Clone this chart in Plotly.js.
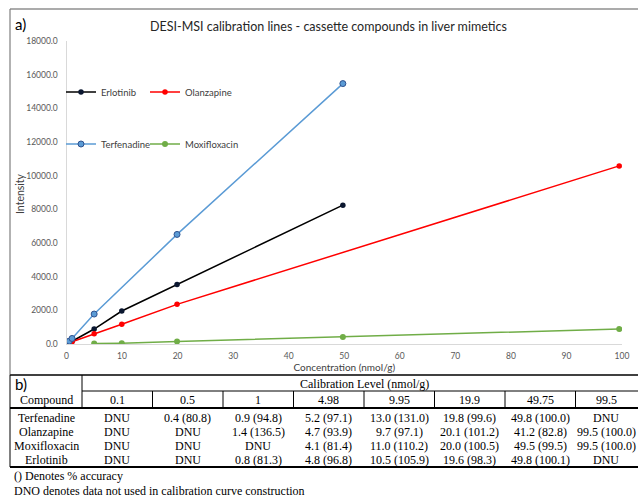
<!DOCTYPE html>
<html><head><meta charset="utf-8">
<script src="https://cdn.plot.ly/plotly-3.0.1.min.js"></script>
<style>html,body{margin:0;padding:0;background:#fff}</style>
</head><body><div id="chart" style="width:638px;height:500px"></div>
<script>
// ---- chart data ----
const erlotinibX = [1, 4.98, 9.95, 19.9, 49.75];
const erlotinibY = [165, 890, 1960, 3540, 8250];
const olanzapineX = [1, 4.98, 9.95, 19.9, 99.5];
const olanzapineY = [130, 610, 1170, 2355, 10580];
const terfenadineX = [0.5, 1, 4.98, 19.9, 49.75];
const terfenadineY = [170, 330, 1780, 6510, 15470];
const moxifloxacinX = [4.98, 9.95, 19.9, 49.75, 99.5];
const moxifloxacinY = [25, 50, 150, 420, 890];

// ---- table data ----
const levels = ['0.1', '0.5', '1', '4.98', '9.95', '19.9', '49.75', '99.5'];
const compounds = ['Terfenadine', 'Olanzapine', 'Moxifloxacin', 'Erlotinib'];
const terfenadineRow = ['DNU', '0.4 (80.8)', '0.9 (94.8)', '5.2 (97.1)', '13.0 (131.0)', '19.8 (99.6)', '49.8 (100.0)', 'DNU'];
const olanzapineRow = ['DNU', 'DNU', '1.4 (136.5)', '4.7 (93.9)', '9.7 (97.1)', '20.1 (101.2)', '41.2 (82.8)', '99.5 (100.0)'];
const moxifloxacinRow = ['DNU', 'DNU', 'DNU', '4.1 (81.4)', '11.0 (110.2)', '20.0 (100.5)', '49.5 (99.5)', '99.5 (100.0)'];
const erlotinibRow = ['DNU', 'DNU', '0.8 (81.3)', '4.8 (96.8)', '10.5 (105.9)', '19.6 (98.3)', '49.8 (100.1)', 'DNU'];
const tableRows = [terfenadineRow, olanzapineRow, moxifloxacinRow, erlotinibRow];
const footnotes = ['() Denotes % accuracy', 'DNO denotes data not used in calibration curve construction'];

// ---- helpers: pixel -> paper ----
const W = 638, H = 500;
const PX = p => p / W;
const PY = p => 1 - p / H;

const sans = 'Lato, "Open Sans", sans-serif';
const serif = '"Liberation Serif", "Times New Roman", serif';

const traces = [
  {x: erlotinibX, y: erlotinibY, name: 'Erlotinib', type: 'scatter', mode: 'lines+markers',
   line: {color: '#000000', width: 1.5}, marker: {color: '#0b1730', size: 5.5}, legend: 'legend'},
  {x: olanzapineX, y: olanzapineY, name: 'Olanzapine', type: 'scatter', mode: 'lines+markers',
   line: {color: '#ff0000', width: 1.5}, marker: {color: '#ff0000', size: 5.5}, legend: 'legend2'},
  {x: terfenadineX, y: terfenadineY, name: 'Terfenadine', type: 'scatter', mode: 'lines+markers',
   line: {color: '#5b9bd5', width: 1.5}, marker: {color: '#5b9bd5', size: 6, line: {color: '#2f528f', width: 1}}, legend: 'legend3'},
  {x: moxifloxacinX, y: moxifloxacinY, name: 'Moxifloxacin', type: 'scatter', mode: 'lines+markers',
   line: {color: '#70ad47', width: 1.5}, marker: {color: '#70ad47', size: 6}, legend: 'legend4'}
];

// ---- table geometry ----
const colEdges = [82, 152.5, 223, 293.5, 364, 434.5, 505, 575.5, 646];
const colCenters = [117, 187.5, 258, 328.5, 399, 469.5, 540, 606];
const compCenter = 46;
const headerY = 400;
const rowYs = [417.5, 431.5, 445.5, 460];

const annotations = [];
const txt = (t, x, y, opts = {}) => annotations.push(Object.assign({
  text: t, x: PX(x), y: PY(y), xref: 'paper', yref: 'paper', showarrow: false,
  xanchor: 'center', yanchor: 'middle', font: {family: serif, size: 12, color: '#000'}
}, opts));

txt('a)', 13, 24, {xanchor: 'left', font: {family: sans, size: 15, color: '#000'}});
txt('DESI-MSI calibration lines - cassette compounds in liver mimetics', 328, 26,
    {font: {family: sans, size: 12.5, color: '#262626'}});
txt('Intensity', 20, 193, {textangle: -90, font: {family: sans, size: 10.5, color: '#404040'}});
txt('b)', 13, 384, {xanchor: 'left', font: {family: sans, size: 15, color: '#000'}});
txt('Calibration Level (nmol/g)', 364, 383.5);
txt('Compound', compCenter, headerY);
levels.forEach((l, i) => txt(l, colCenters[i], headerY));
compounds.forEach((c, r) => {
  txt(c, compCenter, rowYs[r]);
  tableRows[r].forEach((v, i) => txt(v, colCenters[i], rowYs[r]));
});
txt(footnotes[0], 12, 476, {xanchor: 'left'});
txt(footnotes[1], 12, 491, {xanchor: 'left'});

const shapes = [];
const hline = (x0, x1, y, w, c) => shapes.push({type: 'line', xref: 'paper', yref: 'paper',
  x0: PX(x0), x1: PX(x1), y0: PY(y), y1: PY(y), line: {color: c || '#000', width: w || 1}});
const vline = (x, y0, y1, w, c) => shapes.push({type: 'line', xref: 'paper', yref: 'paper',
  x0: PX(x), x1: PX(x), y0: PY(y0), y1: PY(y1), line: {color: c || '#000', width: w || 1}});

// panel a frame
hline(10, 640, 9, 1.2, '#595959');
vline(10, 9, 375, 1.2, '#7f7f7f');
hline(10, 640, 375, 2, '#404040');
// table lines
vline(10, 375, 467, 1, '#000');
vline(82, 375, 408, 1, '#000');
hline(82, 640, 391, 1, '#000');
colEdges.slice(1, -1).forEach(e => vline(e, 391, 408, 1, '#000'));
hline(10, 640, 408, 1.8, '#000');
hline(10, 640, 467, 1.8, '#000');

const legendFont = {family: sans, size: 9.5, color: '#404040'};
const mkLegend = (x, y) => ({x: PX(x), y: PY(y), xanchor: 'left', yanchor: 'middle',
  bgcolor: 'rgba(0,0,0,0)', font: legendFont});

const layout = {
  width: W, height: H,
  margin: {l: 0, r: 0, t: 0, b: 0},
  paper_bgcolor: '#fff', plot_bgcolor: '#fff',
  showlegend: true,
  xaxis: {
    domain: [PX(66.5), PX(622)], range: [0, 100], dtick: 10, tick0: 0,
    showgrid: false, zeroline: false, showline: true, linecolor: '#d9d9d9', linewidth: 1,
    ticks: 'outside', ticklen: 4, tickcolor: 'rgba(0,0,0,0)',
    tickfont: {family: sans, size: 8.5, color: '#595959'},
    title: {text: 'Concentration (nmol/g)', font: {family: sans, size: 10, color: '#404040'}, standoff: 3}
  },
  yaxis: {
    domain: [PY(344), PY(41)], range: [0, 18000], dtick: 2000, tick0: 0, tickformat: '.1f',
    showgrid: false, zeroline: false, showline: true, linecolor: '#d9d9d9', linewidth: 1,
    ticks: 'outside', ticklen: 6, tickcolor: 'rgba(0,0,0,0)',
    tickfont: {family: sans, size: 8.5, color: '#595959'}
  },
  legend: mkLegend(61, 92),
  legend2: mkLegend(145, 92),
  legend3: mkLegend(61, 144),
  legend4: mkLegend(145, 144),
  annotations: annotations,
  shapes: shapes
};

Plotly.newPlot('chart', traces, layout, {displayModeBar: false, staticPlot: true});
</script>
</body></html>
